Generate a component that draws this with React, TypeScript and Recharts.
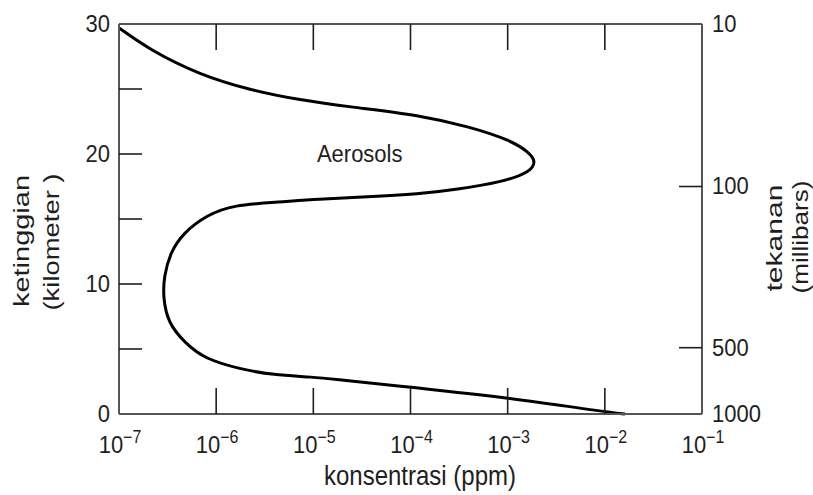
import { LineChart, Line, XAxis, YAxis, ReferenceDot } from 'recharts';

const ppm = [
  1.0e-7, 2.08e-7, 6.83e-7, 2.23e-6, 7.3e-6, 2.38e-5, 1.25e-4, 4.09e-4, 1.06e-3, 1.7e-3,
  1.95e-3, 1.7e-3, 8.95e-4, 2.74e-4, 1.25e-4, 3.56e-5, 1.09e-5, 4.54e-6, 1.49e-6, 8.05e-7,
  4.56e-7, 3.35e-7, 2.9e-7, 2.84e-7, 3.19e-7, 4.78e-7, 7.67e-7, 1.76e-6, 3.85e-6, 9.9e-6,
  1.88e-5, 6.15e-5, 9.16e-4, 1.03e-2, 1.61e-2,
];
const km = [
  29.7, 28.0, 26.08, 24.92, 24.15, 23.62, 23.0, 22.08, 21.08, 20.08,
  19.38, 18.62, 17.85, 17.23, 16.92, 16.69, 16.54, 16.31, 16.08, 15.31,
  13.92, 12.38, 10.54, 9.0, 7.0, 5.46, 4.23, 3.46, 3.0, 2.85,
  2.62, 2.23, 1.31, 0.15, 0.0,
];

const xTicks = [1e-7, 1e-6, 1e-5, 1e-4, 1e-3, 1e-2, 1e-1];
const kmTicks = [0, 5, 10, 15, 20, 25, 30];
const pressureKm = [0, 5.1, 17.5, 30];
const pressureLabels = ['1000', '500', '100', '10'];

const data = ppm.map((p, i) => ({ ppm: p, km: km[i] }));

const INK = '#1e1e1e';
const AXIS = '#555';
const STRETCH = 1.12;

// the source lettering is a little taller than it is wide
function tall(baseY: number) {
  return `matrix(1 0 0 ${STRETCH} 0 ${-(STRETCH - 1) * baseY})`;
}

function BottomTick(props: any) {
  const { x, y, payload } = props;
  const v = payload.value;
  const exp = Math.round(Math.log10(v));
  const edge = v === xTicks[0] || v === xTicks[xTicks.length - 1];
  const by = y + 39;
  return (
    <g>
      {!edge && <line x1={x} y1={y} x2={x} y2={y - 26} stroke={INK} strokeWidth={1.6} />}
      <g transform={tall(by)}>
        <text x={x + 1} y={by} textAnchor="middle" fontSize={22} fill={INK}>
          <tspan>10</tspan>
          <tspan dy={-9} fontSize={16}>{'\u2212' + Math.abs(exp)}</tspan>
        </text>
      </g>
    </g>
  );
}

function TopTick(props: any) {
  const { x, y, payload } = props;
  const v = payload.value;
  if (v === xTicks[0] || v === xTicks[xTicks.length - 1]) return <g />;
  return <line x1={x} y1={y} x2={x} y2={y + 26} stroke={INK} strokeWidth={1.6} />;
}

function LeftTick(props: any) {
  const { x, y, payload } = props;
  const v = payload.value;
  const edge = v === 0 || v === 30;
  const by = y + 8;
  return (
    <g>
      {!edge && <line x1={x} y1={y} x2={x + 23} y2={y} stroke={INK} strokeWidth={1.6} />}
      {v % 10 === 0 && (
        <g transform={tall(by)}>
          <text x={x - 9} y={by} textAnchor="end" fontSize={22} fill={INK}>
            {v}
          </text>
        </g>
      )}
    </g>
  );
}

function RightTick(props: any) {
  const { x, y, payload, index } = props;
  const v = payload.value;
  const edge = v === 0 || v === 30;
  const by = y + 8;
  return (
    <g>
      {!edge && <line x1={x} y1={y} x2={x - 23} y2={y} stroke={INK} strokeWidth={1.6} />}
      <g transform={tall(by)}>
        <text x={x + 10} y={by} textAnchor="start" fontSize={22} fill={INK}>
          {pressureLabels[index]}
        </text>
      </g>
    </g>
  );
}

function VTitle({ x, y, text, len }: { x: number; y: number; text: string; len: number }) {
  return (
    <text
      x={x}
      y={y}
      transform={`rotate(-90 ${x} ${y})`}
      textAnchor="middle"
      fontSize={22}
      fill={INK}
      textLength={len}
      lengthAdjust="spacingAndGlyphs"
    >
      {text}
    </text>
  );
}

function LeftTitle() {
  return (
    <g>
      <VTitle x={29} y={241} text="ketinggian" len={132} />
      <VTitle x={59} y={242} text="(kilometer )" len={137} />
    </g>
  );
}

function RightTitle() {
  return (
    <g>
      <VTitle x={782} y={238} text="tekanan" len={107} />
      <VTitle x={808} y={237} text="(millibars)" len={113} />
    </g>
  );
}

function BottomTitle() {
  return (
    <g transform={tall(485)}>
      <text x={420} y={485} textAnchor="middle" fontSize={24} fill={INK}>
        konsentrasi (ppm)
      </text>
    </g>
  );
}

function AerosolLabel(props: any) {
  const vb = props.viewBox || {};
  const cx = (vb.x ?? 0) + (vb.width ?? 0) / 2;
  const cy = (vb.y ?? 0) + (vb.height ?? 0) / 2;
  const by = cy + 8;
  return (
    <g transform={tall(by)}>
      <text x={cx} y={by} textAnchor="middle" fontSize={22} fill={INK}>
        Aerosols
      </text>
    </g>
  );
}

export default function App() {
  return (
    <div
      style={{
        position: 'absolute',
        left: 0,
        top: 0,
        width: 813,
        height: 495,
        background: '#fff',
        fontFamily: '"Liberation Sans", Arial, Helvetica, sans-serif',
      }}
    >
      <LineChart width={813} height={495} data={data} margin={{ top: 23, right: 51, left: 59, bottom: 31 }}>
        <XAxis
          dataKey="ppm"
          type="number"
          scale="log"
          domain={[1e-7, 1e-1]}
          ticks={xTicks}
          interval={0}
          tickSize={0}
          tickMargin={0}
          tickLine={false}
          height={50}
          axisLine={{ stroke: AXIS, strokeWidth: 2 }}
          tick={<BottomTick />}
          label={<BottomTitle />}
          allowDataOverflow
        />
        <XAxis
          xAxisId="top"
          dataKey="ppm"
          orientation="top"
          type="number"
          scale="log"
          domain={[1e-7, 1e-1]}
          ticks={xTicks}
          interval={0}
          tickSize={0}
          tickMargin={0}
          tickLine={false}
          height={1}
          axisLine={{ stroke: AXIS, strokeWidth: 2 }}
          tick={<TopTick />}
          allowDataOverflow
        />
        <YAxis
          type="number"
          domain={[0, 30]}
          ticks={kmTicks}
          interval={0}
          tickSize={0}
          tickMargin={0}
          tickLine={false}
          width={60}
          axisLine={{ stroke: AXIS, strokeWidth: 2 }}
          tick={<LeftTick />}
          label={<LeftTitle />}
        />
        <YAxis
          yAxisId="right"
          orientation="right"
          type="number"
          domain={[0, 30]}
          ticks={pressureKm}
          interval={0}
          tickSize={0}
          tickMargin={0}
          tickLine={false}
          width={60}
          axisLine={{ stroke: AXIS, strokeWidth: 2 }}
          tick={<RightTick />}
          label={<RightTitle />}
        />
        <ReferenceDot x={3.0e-5} y={20} r={1} fill="none" stroke="none" label={<AerosolLabel />} />
        {/* invisible copy so the top and right axes are drawn */}
        <Line
          xAxisId="top"
          yAxisId="right"
          dataKey="km"
          type="basis"
          stroke="none"
          dot={false}
          activeDot={false}
          legendType="none"
          isAnimationActive={false}
        />
        <Line
          dataKey="km"
          type="basis"
          stroke="#000"
          strokeWidth={3}
          dot={false}
          isAnimationActive={false}
        />
      </LineChart>
    </div>
  );
}
